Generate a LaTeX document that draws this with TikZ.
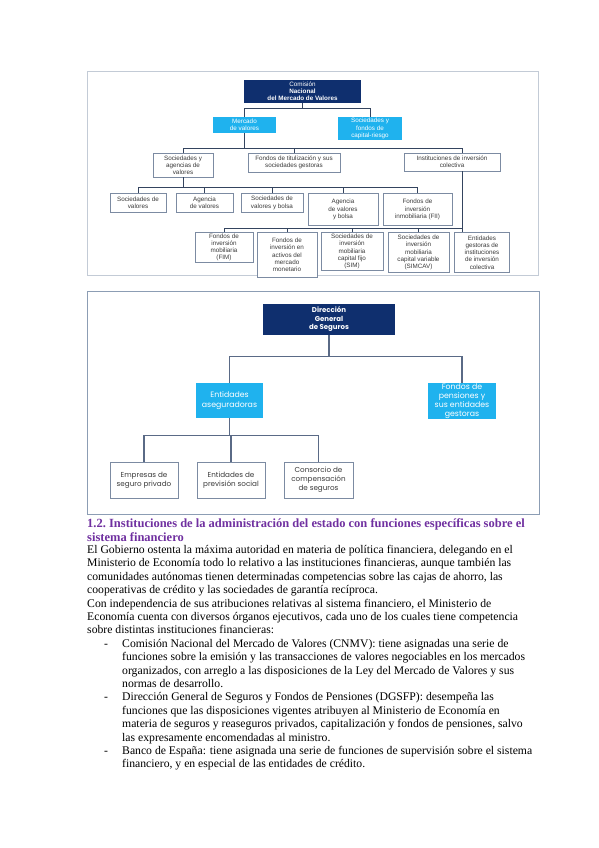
\documentclass[tikz,border=0pt]{standalone}
\usepackage{fontspec}
\setmainfont{Liberation Serif}
\newfontfamily\arialfont{Liberation Sans}
\newfontfamily\popfont{Poppins}
\usepackage{tikz}

\definecolor{navy}{HTML}{0F2F6E}
\definecolor{skyblue}{HTML}{1FB2EE}
\definecolor{framegray}{HTML}{C3CBD6}
\definecolor{framegraytwo}{HTML}{8C9DB4}
\definecolor{linenavy}{HTML}{34445F}
\definecolor{lineslate}{HTML}{5A6A86}
\definecolor{boxline}{HTML}{7C8BA2}
\definecolor{boxtext}{HTML}{3A3A3A}
\definecolor{headpurple}{HTML}{7030A0}

\tikzset{
  chartone/.style={font=\arialfont\fontsize{6.3}{7.2}\selectfont, align=center, inner sep=0pt},
  charttwo/.style={font=\popfont\fontsize{7.2}{9.2}\selectfont, align=center, inner sep=0pt},
  darkbox/.style={fill=navy, text=white},
  lightbox/.style={fill=skyblue, text=white},
  plainbox/.style={draw=boxline, line width=0.8pt, fill=white, text=boxtext},
  conn/.style={draw=linenavy, line width=0.9pt},
  conntwo/.style={draw=lineslate, line width=1.1pt},
  bodytext/.style={font=\fontsize{11.7}{13.4}\selectfont, align=left, inner sep=0pt, anchor=base west},
}

\begin{document}
\begin{tikzpicture}[x=1pt, y=-1pt]
  \fill[white] (0,0) rectangle (599,848);
  \useasboundingbox (0,0) rectangle (599,848);

  % first chart: CNMV
  \draw[framegray, line width=1pt] (87,72) rectangle (538,275);
  \node[chartone, darkbox, minimum width=117pt, minimum height=23pt] (CNMV) at (302.5,91.5)
    {Comisión\\\textbf{Nacional}\\\textbf{del Mercado de Valores}};
  \node[chartone, lightbox, minimum width=63pt, minimum height=16pt] (MV) at (244.5,125) {Mercado\\de valores};
  \node[chartone, lightbox, minimum width=64pt, minimum height=23pt] (SFCR) at (370,128.5) {Sociedades y\\fondos de\\capital-riesgo};

  \node[chartone, plainbox, minimum width=60pt, minimum height=24pt] (SAV) at (183,165) {Sociedades y\\agencias de\\valores};
  \node[chartone, plainbox, minimum width=92pt, minimum height=19pt] (FTS) at (294,162.5) {Fondos de titulización y sus\\sociedades gestoras};
  \node[chartone, plainbox, minimum width=96pt, minimum height=18pt] (IIC) at (452,162) {Instituciones de inversión\\colectiva};

  \node[chartone, plainbox, minimum width=56pt, minimum height=19pt, anchor=north] (SdV) at (138,193) {Sociedades de\\valores};
  \node[chartone, plainbox, minimum width=57pt, minimum height=19pt, anchor=north] (AdV) at (204.5,193) {Agencia\\de valores};
  \node[chartone, plainbox, minimum width=62pt, minimum height=19pt, anchor=north] (SVB) at (272,193) {Sociedades de\\valores y bolsa};
  \node[chartone, plainbox, minimum width=70pt, minimum height=32pt, anchor=north] (AVB) at (343,193) {Agencia\\de valores\\y bolsa};
  \node[chartone, plainbox, minimum width=69pt, minimum height=32pt, anchor=north] (FII) at (417.5,193) {Fondos de\\inversión\\inmobiliaria (FII)};

  \node[chartone, plainbox, minimum width=58pt, minimum height=30pt, anchor=north] (FIM) at (224,232) {Fondos de\\inversión\\mobiliaria\\(FIM)};
  \node[chartone, plainbox, minimum width=60pt, minimum height=45pt, anchor=north] (FIAMM) at (287,232) {Fondos de\\inversión en\\activos del\\mercado\\monetario};
  \node[chartone, plainbox, minimum width=62pt, minimum height=38pt, anchor=north] (SIM) at (352,232) {Sociedades de\\inversión\\mobiliaria\\capital fijo\\(SIM)};
  \node[chartone, plainbox, minimum width=61pt, minimum height=40pt, anchor=north] (SIMCAV) at (418.5,232) {Sociedades de\\inversión\\mobiliaria\\capital variable\\(SIMCAV)};
  \node[chartone, plainbox, minimum width=55pt, minimum height=40pt, anchor=north] (EG) at (482,232) {Entidades\\gestoras de\\instituciones\\de inversión\\colectiva};

  \draw[conn] (CNMV.south) -- ++(0,5) -| (MV.north);
  \draw[conn] (CNMV.south) -- ++(0,5) -| (SFCR.north);
  \draw[conn] (MV.south) -- ++(0,15) -| (SAV.north);
  \draw[conn] (MV.south) -- ++(0,15) -| (FTS.north);
  \draw[conn] (MV.south) -- ++(0,15) -| ([xshift=10pt]IIC.north);
  \foreach \n in {SdV,AdV,SVB,AVB,FII}
    \draw[conn] (SAV.south) -- ++(0,10) -| (\n.north);
  \draw[conn] ([xshift=10pt]IIC.south) -- ([xshift=10pt]IIC.south |- EG.north);
  \foreach \n in {FIM,FIAMM,SIM,SIMCAV}
    \draw[conn] (\n.north) -- ++(0,-4) -| ([xshift=10pt]IIC.south);

  % second chart: seguros
  \draw[framegraytwo, line width=1pt] (87,291) rectangle (539,514);
  \node[charttwo, darkbox, minimum width=132pt, minimum height=31pt, font=\popfont\bfseries\fontsize{7}{8.5}\selectfont] (DGS) at (329,319.5)
    {Dirección\\General\\de Seguros};
  \node[charttwo, lightbox, minimum width=67pt, minimum height=35pt, font=\popfont\fontsize{7.8}{9.4}\selectfont] (EA) at (229.5,400.5) {Entidades\\aseguradoras};
  \node[charttwo, lightbox, minimum width=68pt, minimum height=36pt, font=\popfont\fontsize{7.8}{9.2}\selectfont] (FP) at (462,401) {Fondos de\\pensiones y\\sus entidades\\gestoras};
  \node[charttwo, plainbox, minimum width=68pt, minimum height=36pt] (ESP) at (144,480) {Empresas de\\seguro privado};
  \node[charttwo, plainbox, minimum width=68pt, minimum height=36pt] (EPS) at (231,480) {Entidades de\\previsión social};
  \node[charttwo, plainbox, minimum width=69pt, minimum height=36pt] (CCS) at (318.5,480) {Consorcio de\\compensación\\de seguros};

  \draw[conntwo] (DGS.south) -- ++(0,21) -| (EA.north);
  \draw[conntwo] (DGS.south) -- ++(0,21) -| (FP.north);
  \foreach \n in {ESP,EPS,CCS}
    \draw[conntwo] (EA.south) -- ++(0,17) -| (\n.north);

  % text below (base anchor = last line)
  \node[bodytext, font=\bfseries\fontsize{12.5}{13.4}\selectfont, text=headpurple] (head) at (87,541)
    {1.2.\ Instituciones de la administración del estado con funciones específicas sobre el\\sistema financiero};
  \node[bodytext] (par) at (87,633.9)
    {El Gobierno ostenta la máxima autoridad en materia de política financiera, delegando en el\\
     Ministerio de Economía todo lo relativo a las instituciones financieras, aunque también las\\
     comunidades autónomas tienen determinadas competencias sobre las cajas de ahorro, las\\
     cooperativas de crédito y las sociedades de garantía recíproca.\\
     Con independencia de sus atribuciones relativas al sistema financiero, el Ministerio de\\
     Economía cuenta con diversos órganos ejecutivos, cada uno de los cuales tiene competencia\\
     sobre distintas instituciones financieras:};
  \node[bodytext] (dashA) at (104,647.3) {-};
  \node[bodytext] (itemA) at (122,687.5)
    {Comisión Nacional del Mercado de Valores (CNMV): tiene asignadas una serie de\\
     funciones sobre la emisión y las transacciones de valores negociables en los mercados\\
     organizados, con arreglo a las disposiciones de la Ley del Mercado de Valores y sus\\
     normas de desarrollo.};
  \node[bodytext] (dashB) at (104,700.9) {-};
  \node[bodytext] (itemB) at (122,741.1)
    {Dirección General de Seguros y Fondos de Pensiones (DGSFP): desempeña las\\
     funciones que las disposiciones vigentes atribuyen al Ministerio de Economía en\\
     materia de seguros y reaseguros privados, capitalización y fondos de pensiones, salvo\\
     las expresamente encomendadas al ministro.};
  \node[bodytext] (dashC) at (104,754.5) {-};
  \node[bodytext] (itemC) at (122,767.9)
    {Banco de España: tiene asignada una serie de funciones de supervisión sobre el sistema\\
     financiero, y en especial de las entidades de crédito.};
\end{tikzpicture}
\end{document}
